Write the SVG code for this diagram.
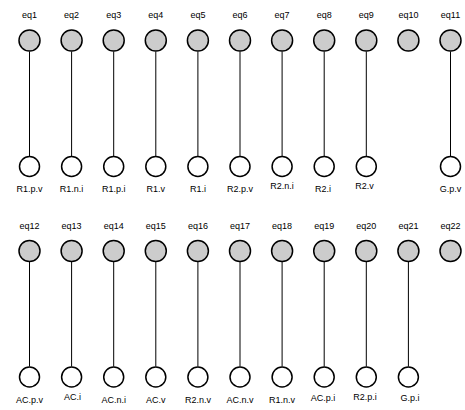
<svg xmlns="http://www.w3.org/2000/svg" width="465" height="410" viewBox="0 0 465 410">
  <style>
    .eq { fill: #cccccc; stroke: #000000; stroke-width: 1.5; }
    .var { fill: #ffffff; stroke: #000000; stroke-width: 1.5; }
    .edge { stroke: #000000; stroke-width: 1; fill: none; }
    text { font-family: "Liberation Sans", Arial, sans-serif; font-size: 9px; fill: #000000; text-anchor: middle; }
  </style>
  <rect width="465" height="410" fill="#ffffff"/>

  <!-- connectors: equation to variable -->
  <g id="edges">
    <line class="edge" x1="29.5" y1="51.5" x2="29.5" y2="156"/>
    <line class="edge" x1="71.6" y1="51.5" x2="71.6" y2="156"/>
    <line class="edge" x1="113.7" y1="51.5" x2="113.7" y2="156"/>
    <line class="edge" x1="155.8" y1="51.5" x2="155.8" y2="156"/>
    <line class="edge" x1="197.9" y1="51.5" x2="197.9" y2="156"/>
    <line class="edge" x1="240" y1="51.5" x2="240" y2="156"/>
    <line class="edge" x1="282.1" y1="51.5" x2="282.1" y2="156"/>
    <line class="edge" x1="324.2" y1="51.5" x2="324.2" y2="156"/>
    <line class="edge" x1="366.3" y1="51.5" x2="366.3" y2="156"/>
    <line class="edge" x1="450.5" y1="51.5" x2="450.5" y2="156"/>

    <line class="edge" x1="29.5" y1="262" x2="29.5" y2="366.5"/>
    <line class="edge" x1="71.6" y1="262" x2="71.6" y2="366.5"/>
    <line class="edge" x1="113.7" y1="262" x2="113.7" y2="366.5"/>
    <line class="edge" x1="155.8" y1="262" x2="155.8" y2="366.5"/>
    <line class="edge" x1="197.9" y1="262" x2="197.9" y2="366.5"/>
    <line class="edge" x1="240" y1="262" x2="240" y2="366.5"/>
    <line class="edge" x1="282.1" y1="262" x2="282.1" y2="366.5"/>
    <line class="edge" x1="324.2" y1="262" x2="324.2" y2="366.5"/>
    <line class="edge" x1="366.3" y1="262" x2="366.3" y2="366.5"/>
    <line class="edge" x1="408.4" y1="262" x2="408.4" y2="366.5"/>
  </g>

  <!-- equation nodes, upper row -->
  <g id="eq1"><circle class="eq" cx="29.5" cy="40.5" r="10.5"/><text x="29.5" y="18">eq1</text></g>
  <g id="eq2"><circle class="eq" cx="71.6" cy="40.5" r="10.5"/><text x="71.6" y="18">eq2</text></g>
  <g id="eq3"><circle class="eq" cx="113.7" cy="40.5" r="10.5"/><text x="113.7" y="18">eq3</text></g>
  <g id="eq4"><circle class="eq" cx="155.8" cy="40.5" r="10.5"/><text x="155.8" y="18">eq4</text></g>
  <g id="eq5"><circle class="eq" cx="197.9" cy="40.5" r="10.5"/><text x="197.9" y="18">eq5</text></g>
  <g id="eq6"><circle class="eq" cx="240" cy="40.5" r="10.5"/><text x="240" y="18">eq6</text></g>
  <g id="eq7"><circle class="eq" cx="282.1" cy="40.5" r="10.5"/><text x="282.1" y="18">eq7</text></g>
  <g id="eq8"><circle class="eq" cx="324.2" cy="40.5" r="10.5"/><text x="324.2" y="18">eq8</text></g>
  <g id="eq9"><circle class="eq" cx="366.3" cy="40.5" r="10.5"/><text x="366.3" y="18">eq9</text></g>
  <g id="eq10"><circle class="eq" cx="408.4" cy="40.5" r="10.5"/><text x="408.4" y="18">eq10</text></g>
  <g id="eq11"><circle class="eq" cx="450.5" cy="40.5" r="10.5"/><text x="450.5" y="18">eq11</text></g>

  <!-- variable nodes, upper row -->
  <g id="R1.p.v"><circle class="var" cx="29.5" cy="166.5" r="10"/><text x="29.5" y="191.5">R1.p.v</text></g>
  <g id="R1.n.i"><circle class="var" cx="71.6" cy="166.5" r="10"/><text x="71.6" y="191.5">R1.n.i</text></g>
  <g id="R1.p.i"><circle class="var" cx="113.7" cy="166.5" r="10"/><text x="113.7" y="191.5">R1.p.i</text></g>
  <g id="R1.v"><circle class="var" cx="155.8" cy="166.5" r="10"/><text x="155.8" y="191.5">R1.v</text></g>
  <g id="R1.i"><circle class="var" cx="197.9" cy="166.5" r="10"/><text x="197.9" y="191.5">R1.i</text></g>
  <g id="R2.p.v"><circle class="var" cx="240" cy="166.5" r="10"/><text x="240" y="191.5">R2.p.v</text></g>
  <g id="R2.n.i"><circle class="var" cx="282.1" cy="166.5" r="10"/><text x="282.1" y="188.5">R2.n.i</text></g>
  <g id="R2.i"><circle class="var" cx="324.2" cy="166.5" r="10"/><text x="323" y="191.5">R2.i</text></g>
  <g id="R2.v"><circle class="var" cx="366.3" cy="166.5" r="10"/><text x="364.5" y="188.5">R2.v</text></g>
  <g id="G.p.v"><circle class="var" cx="450.5" cy="166.5" r="10"/><text x="450.5" y="191.5">G.p.v</text></g>

  <!-- equation nodes, lower row -->
  <g id="eq12"><circle class="eq" cx="29.5" cy="251" r="10.5"/><text x="29.5" y="229">eq12</text></g>
  <g id="eq13"><circle class="eq" cx="71.6" cy="251" r="10.5"/><text x="71.6" y="229">eq13</text></g>
  <g id="eq14"><circle class="eq" cx="113.7" cy="251" r="10.5"/><text x="113.7" y="229">eq14</text></g>
  <g id="eq15"><circle class="eq" cx="155.8" cy="251" r="10.5"/><text x="155.8" y="229">eq15</text></g>
  <g id="eq16"><circle class="eq" cx="197.9" cy="251" r="10.5"/><text x="197.9" y="229">eq16</text></g>
  <g id="eq17"><circle class="eq" cx="240" cy="251" r="10.5"/><text x="240" y="229">eq17</text></g>
  <g id="eq18"><circle class="eq" cx="282.1" cy="251" r="10.5"/><text x="282.1" y="229">eq18</text></g>
  <g id="eq19"><circle class="eq" cx="324.2" cy="251" r="10.5"/><text x="324.2" y="229">eq19</text></g>
  <g id="eq20"><circle class="eq" cx="366.3" cy="251" r="10.5"/><text x="366.3" y="229">eq20</text></g>
  <g id="eq21"><circle class="eq" cx="408.4" cy="251" r="10.5"/><text x="408.4" y="229">eq21</text></g>
  <g id="eq22"><circle class="eq" cx="450.5" cy="251" r="10.5"/><text x="450.5" y="229">eq22</text></g>

  <!-- variable nodes, lower row -->
  <g id="AC.p.v"><circle class="var" cx="29.5" cy="377" r="10"/><text x="29.5" y="402.5">AC.p.v</text></g>
  <g id="AC.i"><circle class="var" cx="71.6" cy="377" r="10"/><text x="72.5" y="399.5">AC.i</text></g>
  <g id="AC.n.i"><circle class="var" cx="113.7" cy="377" r="10"/><text x="113.7" y="402.5">AC.n.i</text></g>
  <g id="AC.v"><circle class="var" cx="155.8" cy="377" r="10"/><text x="155.8" y="402.5">AC.v</text></g>
  <g id="R2.n.v"><circle class="var" cx="197.9" cy="377" r="10"/><text x="197.9" y="402.5">R2.n.v</text></g>
  <g id="AC.n.v"><circle class="var" cx="240" cy="377" r="10"/><text x="240" y="402.5">AC.n.v</text></g>
  <g id="R1.n.v"><circle class="var" cx="282.1" cy="377" r="10"/><text x="282.1" y="402.5">R1.n.v</text></g>
  <g id="AC.p.i"><circle class="var" cx="324.2" cy="377" r="10"/><text x="323" y="400.5">AC.p.i</text></g>
  <g id="R2.p.i"><circle class="var" cx="366.3" cy="377" r="10"/><text x="365" y="399.5">R2.p.i</text></g>
  <g id="G.p.i"><circle class="var" cx="408.4" cy="377" r="10"/><text x="410" y="400.5">G.p.i</text></g>
</svg>
